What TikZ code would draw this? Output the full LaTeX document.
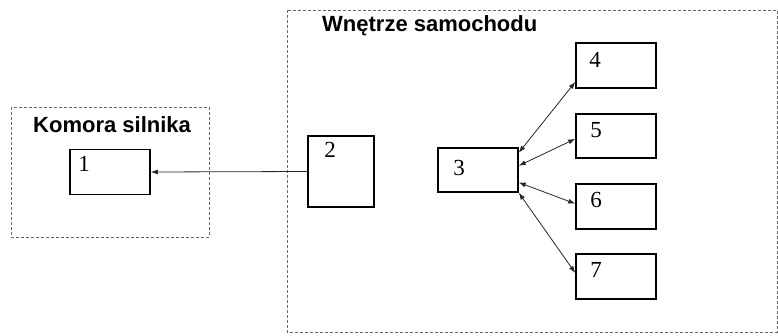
\documentclass[tikz,border=0pt]{standalone}
\usepackage{fontspec}
\setmainfont{Liberation Serif}
\newfontfamily\titlefont{Liberation Sans}
\usetikzlibrary{arrows.meta}

\tikzset{
   box/.style={draw, line width=1.5pt, minimum width=80pt, minimum height=45pt, inner sep=0pt},
   num/.style={font=\fontsize{23}{23}\selectfont, inner sep=0pt, anchor=north west},
   zonetitle/.style={font=\titlefont\bfseries\fontsize{22}{22}\selectfont, inner sep=0pt, anchor=base west},
   zone/.style={draw=black!60, line width=1pt, dash pattern=on 3pt off 2pt},
   link/.style={-{Latex[length=7pt,width=5pt]}, line width=0.8pt, black!85},
   dlink/.style={{Latex[length=7pt,width=5pt]}-{Latex[length=7pt,width=5pt]}, line width=0.8pt, black!85}
}

\begin{document}
\begin{tikzpicture}[x=1pt, y=-1pt]
            \useasboundingbox (0,0) rectangle (778,335);
            % Zones
            \draw[zone] (11,107) rectangle (209,237);
            \draw[zone] (287,10) rectangle (777,332);
            \node[zonetitle] (engine) at (33,132) {Komora silnika};
            \node[zonetitle] (cabin) at (322,31) {Wnętrze samochodu};
            % Boxes
            \node[box] (b1) at (110,172) {};
            \node[box, minimum width=66pt, minimum height=71pt] (b2) at (341,171.5) {};
            \node[box, minimum height=44pt] (b3) at (478,170) {};
            \node[box] (b4) at (616,65.5) {};
            \node[box, minimum height=44pt] (b5) at (616,136) {};
            \node[box] (b6) at (616,206.5) {};
            \node[box] (b7) at (616,276.5) {};
            % Numbers
            \node[num] (n1) at ([shift={(9,7)}]b1.north west) {1};
            \node[num] (n2) at ([shift={(17,7)}]b2.north west) {2};
            \node[num] (n3) at ([shift={(16,13)}]b3.north west) {3};
            \node[num] (n4) at ([shift={(14,10)}]b4.north west) {4};
            \node[num] (n5) at ([shift={(15,9)}]b5.north west) {5};
            \node[num] (n6) at ([shift={(15,9)}]b6.north west) {6};
            \node[num] (n7) at ([shift={(15,9)}]b7.north west) {7};
            % Connections
            \draw[link] (b2.west) -- (b1.east);
            \draw[dlink] (b3.23) -- (b4.202);
            \draw[dlink] (b3.6) -- (b5.184);
            \draw[dlink] (b3.-17) -- (b6.176);
            \draw[dlink] (b3.south east) -- (b7.175);
         \end{tikzpicture}
\end{document}
